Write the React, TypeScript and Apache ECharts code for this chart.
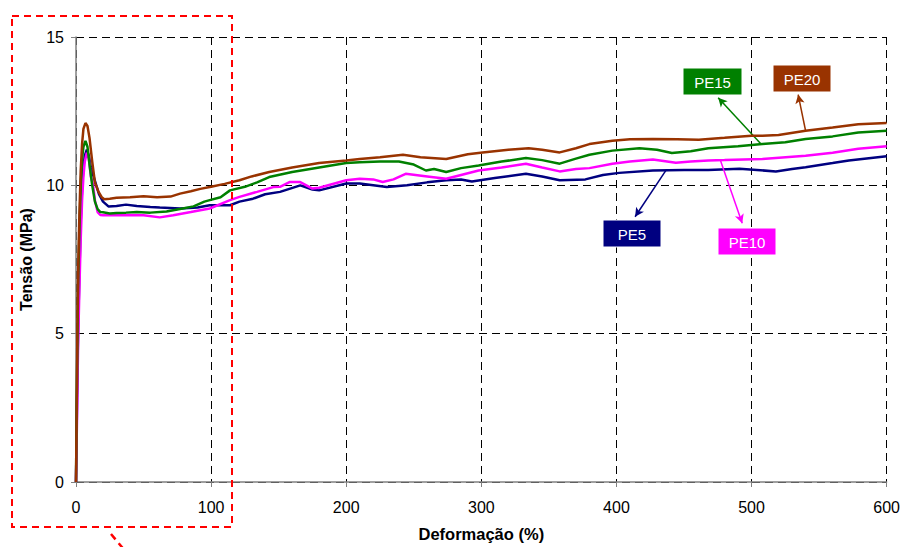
import React, { useEffect, useRef } from "react";
import * as echarts from "echarts";

const xTicks = [0, 100, 200, 300, 400, 500, 600];
const yTicks = [0, 5, 10, 15];

const pe5 = [[0,0],[0.7,2.5],[1.5,5],[2.5,7],[3.5,8.8],[4.5,9.9],[5.5,10.6],[6.5,11],[8,11.2],[9.5,11.0],[11,10.6],[13,10.3],[15,10.0],[17,9.7],[20,9.45],[24,9.29],[30,9.3],[37,9.35],[45,9.3],[55,9.27],[62,9.25],[77,9.22],[90,9.25],[99,9.33],[114,9.33],[121,9.45],[131,9.55],[140,9.7],[151,9.78],[166,10.0],[175,9.86],[180,9.83],[200,10.06],[210,10.06],[220,10.0],[230,9.94],[245,10.0],[260,10.1],[274,10.17],[285,10.2],[293,10.13],[310,10.25],[333,10.39],[345,10.3],[358,10.17],[377,10.2],[390,10.35],[402,10.42],[427,10.5],[450,10.52],[468,10.52],[491,10.56],[518,10.47],[530,10.55],[540,10.61],[560,10.75],[572,10.84],[600,10.98]];

const pe10 = [[0,0],[0.7,2],[1.5,4.5],[2.5,6.5],[3.5,8.2],[4.5,9.5],[5.5,10.3],[6.5,10.8],[8,11.1],[9.5,10.9],[11,10.3],[12.7,10],[14,9.5],[16,9.1],[18,9.0],[20,8.99],[30,8.99],[40,9.0],[50,8.99],[62,8.92],[72,8.99],[85,9.1],[99,9.22],[114,9.5],[121,9.61],[134,9.78],[146,9.94],[151,9.95],[158,10.11],[166,10.11],[175,9.89],[180,9.92],[200,10.17],[210,10.22],[220,10.2],[227,10.11],[235,10.2],[244,10.39],[260,10.3],[274,10.22],[285,10.35],[298,10.5],[315,10.6],[333,10.73],[345,10.6],[358,10.47],[370,10.55],[380,10.58],[397,10.73],[410,10.8],[427,10.87],[444,10.76],[455,10.8],[468,10.84],[480,10.85],[508,10.89],[540,11.0],[560,11.1],[579,11.23],[600,11.32]];

const pe15 = [[0,0],[0.5,2.5],[1,4.5],[1.5,6.5],[2.5,8.5],[3.5,10],[4.5,10.9],[5.5,11.3],[7,11.5],[8.5,11.3],[10,10.7],[12,10],[14,9.45],[16,9.2],[18,9.1],[20,9.09],[25,9.05],[30,9.07],[37,9.08],[45,9.1],[55,9.08],[67,9.12],[77,9.2],[87,9.29],[95,9.45],[99,9.5],[107,9.6],[114,9.83],[125,9.95],[134,10.1],[143,10.28],[160,10.45],[180,10.6],[200,10.75],[210,10.78],[225,10.8],[239,10.8],[250,10.7],[259,10.5],[265,10.55],[274,10.45],[285,10.58],[298,10.67],[315,10.8],[333,10.92],[345,10.85],[358,10.73],[370,10.9],[380,11.03],[397,11.17],[417,11.25],[430,11.2],[441,11.09],[455,11.15],[468,11.25],[490,11.32],[508,11.39],[525,11.45],[540,11.56],[560,11.65],[579,11.78],[600,11.84]];

const pe20 = [[0,0],[0.5,2.5],[1,5],[1.5,7],[2.5,9],[3.5,10.5],[4.5,11.4],[5.5,11.9],[7,12.1],[8.5,12],[10,11.6],[12,10.8],[14,10.1],[16.5,9.8],[19,9.6],[21,9.53],[25,9.55],[30,9.58],[40,9.6],[50,9.63],[60,9.6],[70,9.62],[77,9.72],[85,9.8],[92,9.88],[100,9.95],[110,10.05],[121,10.17],[130,10.3],[143,10.45],[160,10.6],[180,10.75],[200,10.84],[210,10.89],[225,10.95],[242,11.03],[255,10.95],[274,10.89],[290,11.05],[301,11.11],[320,11.2],[335,11.25],[345,11.2],[358,11.11],[370,11.25],[380,11.39],[397,11.5],[410,11.55],[427,11.56],[445,11.55],[461,11.54],[480,11.6],[500,11.67],[508,11.67],[520,11.7],[540,11.84],[560,11.95],[579,12.06],[600,12.1]];

const seriesNames = ["PE5", "PE10", "PE15", "PE20"];
const seriesColors = ["#000080", "#FF00FF", "#008000", "#993300"];
// arrow: from point on curve to label box (data coords)
const arrowFrom = [[437, 10.53], [477, 10.84], [507, 11.39], [540, 11.84]];
const arrowTo = [[413.8, 8.94], [493.1, 8.72], [475.3, 12.95], [534.5, 13.06]];
// label boxes (pixel): x, y, w, h
const labelBoxes = [[603, 220, 58, 27], [718, 228, 58, 27], [683, 68, 59, 27], [773, 65, 58, 27]];

export default function App() {
  const ref = useRef<HTMLDivElement>(null);
  useEffect(() => {
    if (!ref.current) return;
    const chart = echarts.init(ref.current, null, { renderer: "svg" });
    const datas = [pe5, pe10, pe15, pe20];
    const font = "Liberation Sans, Arial, sans-serif";
    const series: any[] = datas.map((d, i) => ({
      name: seriesNames[i],
      type: "line",
      data: d,
      showSymbol: false,
      symbol: "none",
      lineStyle: { color: seriesColors[i], width: 2.5 },
      z: 3 + i,
      markLine: {
        silent: true,
        symbol: ["none", "arrow"],
        symbolSize: [7, 9],
        lineStyle: { color: seriesColors[i], width: 1.5, type: "solid" },
        label: { show: false },
        data: [[{ coord: arrowFrom[i] }, { coord: arrowTo[i] }]],
      },
    }));
    const graphic: any[] = [];
    labelBoxes.forEach((b, i) => {
      graphic.push({
        type: "rect",
        shape: { x: b[0], y: b[1], width: b[2], height: b[3] },
        style: { fill: seriesColors[i], stroke: "#ffffff", lineWidth: 1 },
        z: 100,
      });
      graphic.push({
        type: "text",
        x: b[0] + b[2] / 2,
        y: b[1] + b[3] / 2 + 1,
        style: {
          text: seriesNames[i],
          fill: "#ffffff",
          font: "15px " + font,
          align: "center",
          verticalAlign: "middle",
        },
        z: 101,
      });
    });
    graphic.push({
      type: "rect",
      shape: { x: 12, y: 16, width: 220, height: 511 },
      style: { fill: "none", stroke: "#ff0000", lineWidth: 2, lineDash: [7, 5] },
      z: 120,
    });
    graphic.push({
      type: "line",
      shape: { x1: 111, y1: 534, x2: 126, y2: 552 },
      style: { stroke: "#ff0000", lineWidth: 2.5, lineDash: [7, 5] },
      z: 120,
    });
    chart.setOption({
      animation: false,
      backgroundColor: "#ffffff",
      grid: { left: 76, top: 37, right: 15, bottom: 61, containLabel: false },
      xAxis: {
        type: "value",
        min: xTicks[0],
        max: xTicks[xTicks.length - 1],
        interval: 100,
        name: "Deformação (%)",
        nameLocation: "middle",
        nameGap: 43,
        nameTextStyle: { fontFamily: font, fontWeight: "bold", fontSize: 16.5, color: "#000" },
        axisLine: { lineStyle: { color: "#808080", width: 1.5 } },
        axisTick: { show: true, length: 5, lineStyle: { color: "#808080" } },
        axisLabel: { fontFamily: font, fontSize: 16, color: "#000", margin: 17 },
        splitLine: { show: true, lineStyle: { color: "#000", type: [8, 5], width: 1 } },
      },
      yAxis: {
        type: "value",
        min: yTicks[0],
        max: yTicks[yTicks.length - 1],
        interval: 5,
        name: "Tensão (MPa)",
        nameLocation: "middle",
        nameRotate: 90,
        nameGap: 42,
        nameTextStyle: { fontFamily: font, fontWeight: "bold", fontSize: 16, color: "#000" },
        axisLine: { show: true, lineStyle: { color: "#808080", width: 1.5 } },
        axisTick: { show: true, length: 5, lineStyle: { color: "#808080" } },
        axisLabel: { fontFamily: font, fontSize: 16, color: "#000", margin: 12 },
        splitLine: { show: true, lineStyle: { color: "#000", type: [8, 5], width: 1 } },
      },
      series,
      graphic,
    });
    return () => chart.dispose();
  }, []);
  return (
    <div
      ref={ref}
      style={{ position: "fixed", left: 0, top: 0, width: 903, height: 547, background: "#fff" }}
    />
  );
}
